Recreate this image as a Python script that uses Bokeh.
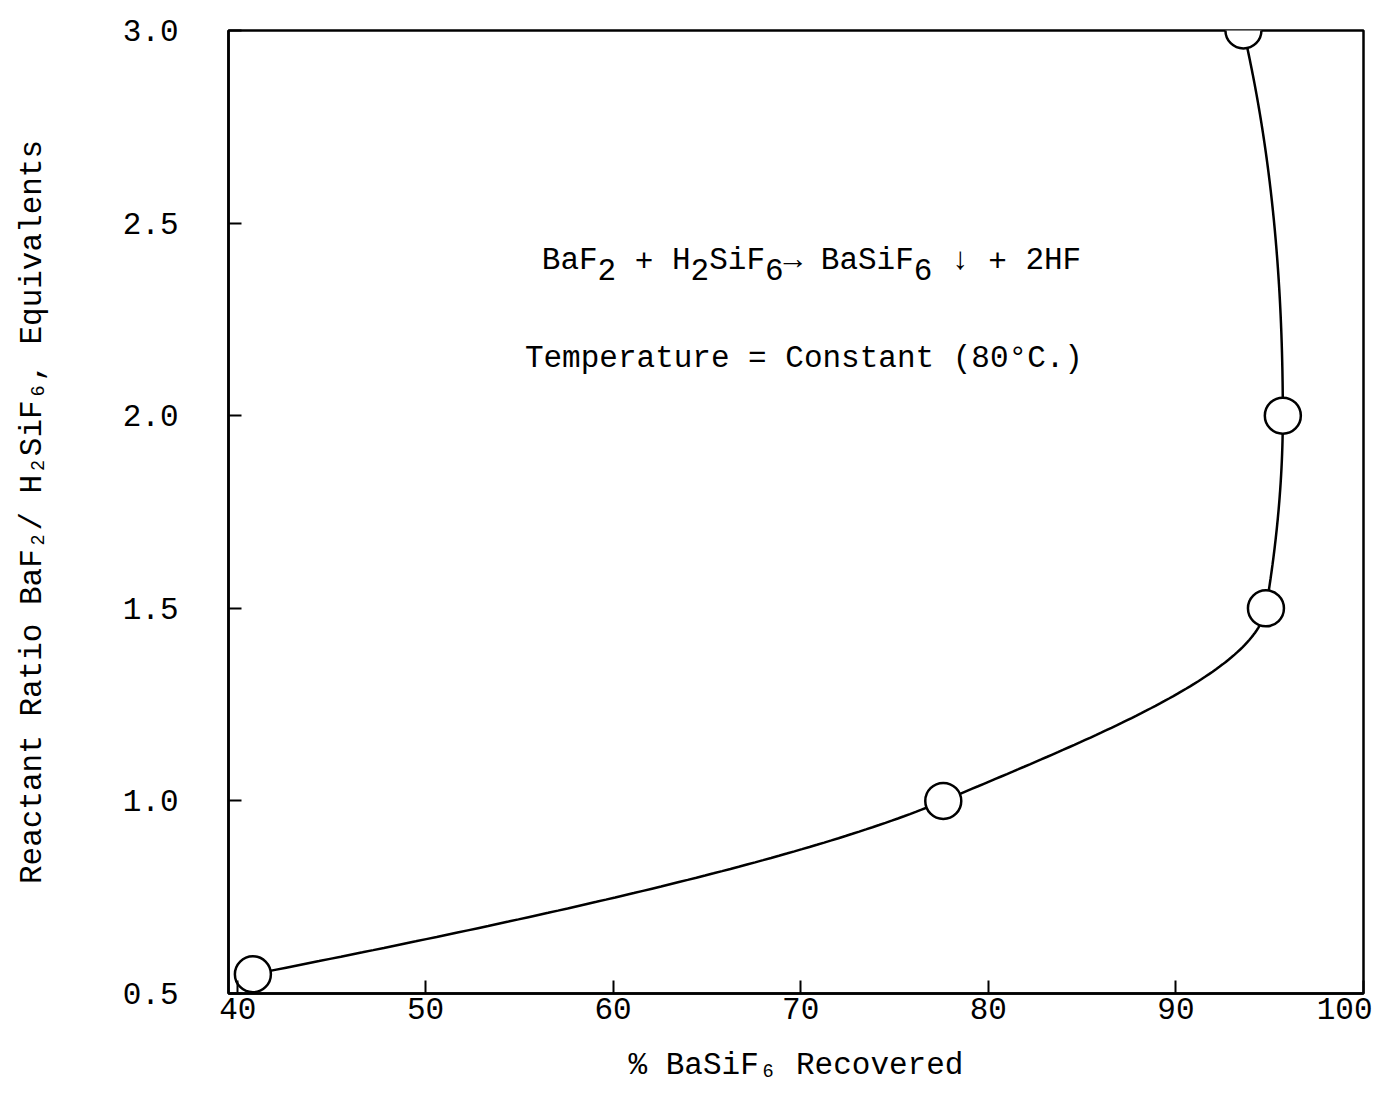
import numpy as np
from bokeh.plotting import figure
from bokeh.models import Label, FixedTicker, Range1d, PrintfTickFormatter
from bokeh.embed import file_html
from bokeh.resources import INLINE

# data
recovered = [40.8, 77.6, 94.8, 95.7, 93.6]   # % BaSiF6 recovered
ratio = [0.55, 1.0, 1.5, 2.0, 3.0]           # reactant ratio, equivalents
x_ticks = [40, 50, 60, 70, 80, 90, 100]
y_ticks = [0.5, 1.0, 1.5, 2.0, 2.5, 3.0]
# texts: (run, is_subscript)
equation = [("BaF", 0), ("2", 1), (" + H", 0), ("2", 1), ("SiF", 0), ("6", 1),
            ("\u2192 BaSiF", 0), ("6", 1), (" \u2193 + 2HF", 0)]
condition = [("Temperature = Constant (80\u00b0C.)", 0)]
x_title = "% BaSiF\u2086 Recovered"
y_title = "Reactant Ratio BaF\u2082/ H\u2082SiF\u2086, Equivalents"

FONT = "Liberation Mono, DejaVu Sans Mono"
FSZ = 31
FS = f"{FSZ}px"
ADV = 0.6 * FSZ      # monospace advance
SUB = 9              # subscript drop, px

W, H = 1372, 1085
p = figure(width=W, height=H, output_backend="svg", toolbar_location=None,
           x_range=Range1d(39.5, 100.0), y_range=Range1d(0.5, 3.0),
           min_border_left=228, min_border_top=30, min_border_right=9,
           min_border_bottom=92)

# smooth curve through the points: monotone cubic (PCHIP) of x as a function of y
xk = np.array(recovered, dtype=float)
yk = np.array(ratio, dtype=float)
h = np.diff(yk)
dl = np.diff(xk) / h
n = len(xk)
d = np.zeros(n)
for k in range(1, n - 1):
    if dl[k - 1] * dl[k] > 0:
        w1 = 2 * h[k] + h[k - 1]
        w2 = h[k] + 2 * h[k - 1]
        d[k] = (w1 + w2) / (w1 / dl[k - 1] + w2 / dl[k])


def end_slope(h0, h1, m0, m1):
    s = ((2 * h0 + h1) * m0 - h0 * m1) / (h0 + h1)
    if np.sign(s) != np.sign(m0):
        s = 0.0
    elif np.sign(m0) != np.sign(m1) and abs(s) > 3 * abs(m0):
        s = 3 * m0
    return s


d[0] = end_slope(h[0], h[1], dl[0], dl[1])
d[-1] = end_slope(h[-1], h[-2], dl[-1], dl[-2])
xs_c, ys_c = [], []
for k in range(n - 1):
    t = np.linspace(0.0, 1.0, 80)
    h00 = 2 * t**3 - 3 * t**2 + 1
    h10 = t**3 - 2 * t**2 + t
    h01 = -2 * t**3 + 3 * t**2
    h11 = t**3 - t**2
    xs_c.extend(h00 * xk[k] + h10 * h[k] * d[k] + h01 * xk[k + 1] + h11 * h[k] * d[k + 1])
    ys_c.extend(yk[k] + t * h[k])

p.line(xs_c, ys_c, line_color="black", line_width=2.5)
p.scatter(recovered, ratio, marker="circle", size=36, fill_color="white",
          line_color="black", line_width=2.5)

p.xgrid.visible = False
p.ygrid.visible = False
p.outline_line_color = "black"
p.outline_line_width = 2.5
p.outline_line_alpha = 1.0

p.xaxis.ticker = FixedTicker(ticks=x_ticks)
p.yaxis.ticker = FixedTicker(ticks=y_ticks)
p.yaxis.formatter = PrintfTickFormatter(format="%.1f")

for ax in (p.xaxis, p.yaxis):
    ax.axis_line_color = "black"
    ax.axis_line_width = 2.5
    ax.major_tick_in = 13
    ax.major_tick_out = 0
    ax.major_tick_line_width = 2
    ax.major_tick_line_color = "black"
    ax.minor_tick_line_color = None
    ax.major_label_text_font = FONT
    ax.major_label_text_font_size = FS
    ax.major_label_text_color = "black"
    ax.axis_label_text_font = FONT
    ax.axis_label_text_font_size = FS
    ax.axis_label_text_font_style = "normal"
    ax.axis_label_text_color = "black"

p.xaxis.axis_label = x_title
p.yaxis.axis_label = y_title
p.xaxis.major_label_standoff = 4
p.xaxis.axis_label_standoff = 26
p.yaxis.major_label_standoff = 50
p.yaxis.axis_label_standoff = 70


def rich_text(runs, x, y):
    """Monospace text with lowered subscripts, one Label per non-blank run."""
    idx = 0
    for run, sub in runs:
        j = 0
        while j < len(run):
            if run[j] == " ":
                j += 1
                continue
            k = j
            while k < len(run) and run[k] != " ":
                k += 1
            p.add_layout(Label(x=x, y=y, x_offset=(idx + j) * ADV,
                               y_offset=-SUB if sub else 0, text=run[j:k],
                               text_align="left", text_baseline="alphabetic",
                               text_font=FONT, text_font_size=FS,
                               text_color="black"))
            j = k
        idx += len(run)


rich_text(equation, 56.2, 2.403)
rich_text(condition, 55.3, 2.148)

open("out.html", "w").write(file_html(p, INLINE))
